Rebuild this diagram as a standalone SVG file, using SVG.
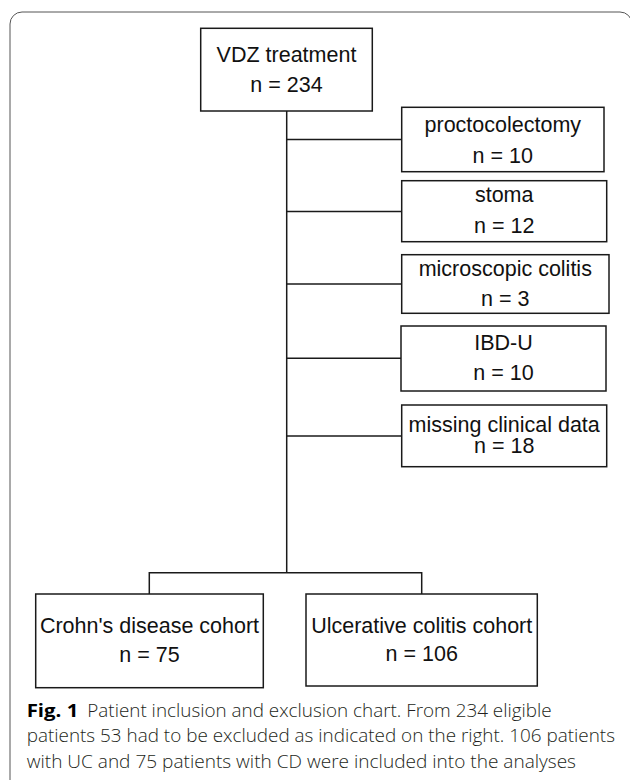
<svg xmlns="http://www.w3.org/2000/svg" width="630" height="780" viewBox="0 0 630 780">
<style>
.box{fill:#fff;stroke:#1a1a1a;stroke-width:1.5}
.lbl{font-family:"Liberation Sans",Arial,sans-serif;font-size:21.5px;fill:#111;text-anchor:middle}
.conn{fill:none;stroke:#1a1a1a;stroke-width:1.5}
.cap{font-family:"Open Sans","Noto Sans",sans-serif;font-size:18.5px;font-weight:300;fill:#231f20}
</style>
<rect width="630" height="780" fill="#fff"/>
<path d="M10,780 V24 A12,12 0 0 1 22,12 H620 A12,12 0 0 1 632,24 V780" fill="none" stroke="#555" stroke-width="1"/>
<g id="connectors">
<path class="conn" d="M286.7,111 V572.7"/>
<path class="conn" d="M286.7,139.5 H401.7"/>
<path class="conn" d="M286.7,211.5 H401.7"/>
<path class="conn" d="M286.7,284 H401.7"/>
<path class="conn" d="M286.7,358.3 H401"/>
<path class="conn" d="M286.7,436 H401.7"/>
<path class="conn" d="M149.3,594 V572.7 H421.7 V594"/>
</g>
<g id="vdz">
<rect class="box" x="200.7" y="28.3" width="171.6" height="82.7"/>
<text class="lbl" x="286.5" y="61.7">VDZ treatment</text>
<text class="lbl" x="286.5" y="92">n = 234</text>
</g>
<g id="proctocolectomy">
<rect class="box" x="401.7" y="107.3" width="202.3" height="64.4"/>
<text class="lbl" x="502.8" y="131.7">proctocolectomy</text>
<text class="lbl" x="502.8" y="162.5">n = 10</text>
</g>
<g id="stoma">
<rect class="box" x="401.7" y="180.7" width="205" height="61"/>
<text class="lbl" x="504.2" y="201.7">stoma</text>
<text class="lbl" x="504.2" y="233.3">n = 12</text>
</g>
<g id="microscopic">
<rect class="box" x="401.7" y="254.7" width="207.3" height="58.6"/>
<text class="lbl" x="505.3" y="275.7">microscopic colitis</text>
<text class="lbl" x="505.3" y="306">n = 3</text>
</g>
<g id="ibdu">
<rect class="box" x="401" y="326" width="205" height="65"/>
<text class="lbl" x="503.5" y="350">IBD-U</text>
<text class="lbl" x="503.5" y="380">n = 10</text>
</g>
<g id="missing">
<rect class="box" x="401.7" y="405" width="205" height="61.7"/>
<text class="lbl" x="504.2" y="431.7">missing clinical data</text>
<text class="lbl" x="504.2" y="453.3">n = 18</text>
</g>
<g id="crohn">
<rect class="box" x="35.7" y="594" width="227.6" height="93.7"/>
<text class="lbl" x="149.5" y="632.7">Crohn's disease cohort</text>
<text class="lbl" x="149.5" y="661.7">n = 75</text>
</g>
<g id="uc">
<rect class="box" x="306" y="594" width="231.3" height="92"/>
<text class="lbl" x="421.7" y="632.7">Ulcerative colitis cohort</text>
<text class="lbl" x="421.7" y="660.5">n = 106</text>
</g>
<g id="caption">
<text class="cap" x="26.7" y="716.7"><tspan font-weight="bold" fill="#000" textLength="51.6" lengthAdjust="spacingAndGlyphs">Fig. 1</tspan><tspan x="87.3" textLength="464.4" lengthAdjust="spacingAndGlyphs">Patient inclusion and exclusion chart. From 234 eligible</tspan></text>
<text class="cap" x="26.7" y="742.3" textLength="588.3" lengthAdjust="spacingAndGlyphs">patients 53 had to be excluded as indicated on the right. 106 patients</text>
<text class="cap" x="26.7" y="768" textLength="549.3" lengthAdjust="spacingAndGlyphs">with UC and 75 patients with CD were included into the analyses</text>
</g>
</svg>
